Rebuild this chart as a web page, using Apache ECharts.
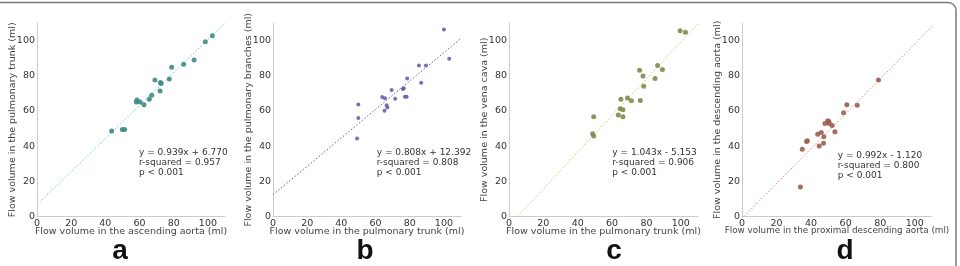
<!DOCTYPE html>
<html><head><meta charset="utf-8">
<script src="https://cdn.jsdelivr.net/npm/echarts@6/dist/echarts.min.js"></script>
<style>html,body{margin:0;padding:0;background:#fff}#c{width:960px;height:266px}</style>
</head><body><div id="c"></div>
<script>
// ---------- data ----------
const axisMin = 0;
const axisMax = 110;
const tickStep = 20;
const panelLetters = ['a', 'b', 'c', 'd'];
const xNames = [
  'Flow volume in the ascending aorta (ml)',
  'Flow volume in the pulmonary trunk (ml)',
  'Flow volume in the pulmonary trunk (ml)',
  'Flow volume in the proximal descending aorta (ml)'
];
const yNames = [
  'Flow volume in the pulmonary trunk (ml)',
  'Flow volume in the pulmonary branches (ml)',
  'Flow volume in the vena cava (ml)',
  'Flow volume in the descending aorta (ml)'
];
const slopes = [0.939, 0.808, 1.043, 0.992];
const intercepts = [6.770, 12.392, -5.153, -1.120];
const rSquared = ['0.957', '0.808', '0.906', '0.800'];
const pTexts = ['p < 0.001', 'p < 0.001', 'p < 0.001', 'p < 0.001'];

const pointsA = [[43.7,48.6],[49.9,49.5],[51.3,49.5],[58.1,65.1],[58.5,66.2],[60.3,65.1],[62.6,63.5],[65.7,66.6],[67.1,68.9],[69.0,77.6],[72.0,71.3],[72.2,76.2],[72.6,75.6],[77.4,78.1],[78.8,84.8],[85.8,86.5],[91.9,88.9],[98.5,99.3],[102.6,102.7]];
const pointsB = [[49.2,44.4],[49.9,56.0],[49.9,63.7],[63.9,67.9],[65.2,60.1],[65.5,67.2],[66.5,63.2],[66.9,62.0],[69.4,71.9],[71.5,66.9],[76.0,72.5],[76.5,72.9],[77.2,68.1],[78.2,68.1],[78.5,78.5],[85.4,85.9],[86.7,76.0],[89.5,85.9],[100.0,106.3],[103.1,89.7]];
const pointsC = [[48.7,47.0],[49.3,45.7],[49.3,56.7],[63.6,57.7],[64.7,61.3],[65.1,66.6],[66.3,60.7],[66.3,56.7],[69.0,67.3],[71.2,65.8],[76.0,83.2],[76.4,66.0],[78.0,79.8],[78.4,74.0],[85.0,78.5],[86.5,85.9],[89.3,83.6],[99.6,105.6],[102.7,104.8]];
const pointsD = [[33.8,16.8],[34.9,38.2],[37.4,42.6],[37.8,43.1],[43.8,46.7],[44.7,40.1],[45.9,47.8],[47.2,41.6],[47.4,45.3],[48.0,52.9],[49.7,54.4],[50.5,52.9],[50.3,54.0],[52.2,51.8],[53.8,48.2],[58.8,59.0],[60.7,63.5],[66.7,63.2],[79.0,77.6]];
const allPoints = [pointsA, pointsB, pointsC, pointsD];

// ---------- styles / layout ----------
const pointColors = ['#3f8a84', '#6464ac', '#7d8b4c', '#9a5f4e'];
const lineColors = ['#62cbc3', '#5c5ca6', '#bccf6a', '#ee8677'];
const pointSizes = [5, 4, 5, 5];
const gridLefts = [37, 273, 509, 742];
const gridWidths = [188, 188, 189, 190];
const annLeft = [139, 376.7, 612.3, 837.7];
const annTop = [147.5, 147.5, 147.5, 151];
const letterX = [120, 365, 614, 845];
const xNameSize = [9.5, 9.5, 9.5, 8.8];
const FONT = 'DejaVu Sans';

function fitLine(m, b) {
  const x0 = Math.max(axisMin, (axisMin - b) / m);
  const x1 = Math.min(axisMax, (axisMax - b) / m);
  return [[x0, m * x0 + b], [x1, m * x1 + b]];
}
function eqText(m, b) {
  return 'y = ' + m.toFixed(3) + 'x ' + (b < 0 ? '- ' : '+ ') + Math.abs(b).toFixed(3);
}

const grids = [], xAxes = [], yAxes = [], series = [], graphics = [];
const axisCommon = {
  min: axisMin, max: axisMax, interval: tickStep,
  axisLine: { show: true, lineStyle: { color: '#cccccc', width: 1 } },
  axisTick: { show: false },
  splitLine: { show: false },
  nameLocation: 'middle',
  nameMoveOverlap: false,
  nameTextStyle: { fontFamily: FONT, fontSize: 9.5, color: '#444' }
};
for (let i = 0; i < 4; i++) {
  grids.push({ left: gridLefts[i], top: 23, width: gridWidths[i], height: 193.5 });
  xAxes.push(Object.assign({}, axisCommon, {
    type: 'value', gridIndex: i, name: xNames[i], nameGap: 10,
    nameTextStyle: { fontFamily: FONT, fontSize: xNameSize[i], color: '#444' },
    axisLabel: { showMaxLabel: false, margin: 2, fontFamily: FONT, fontSize: 9.5, color: '#333',
      formatter: v => (v > 100 ? '' : String(v)) }
  }));
  yAxes.push(Object.assign({}, axisCommon, {
    type: 'value', gridIndex: i, name: yNames[i], nameGap: 19,
    axisLabel: { showMaxLabel: false, margin: 2, fontFamily: FONT, fontSize: 9.5, color: '#333',
      formatter: v => (v > 100 ? '' : String(v)) }
  }));
  series.push({
    type: 'line', xAxisIndex: i, yAxisIndex: i, data: fitLine(slopes[i], intercepts[i]),
    showSymbol: false, symbol: 'none', silent: true, z: 1,
    lineStyle: { color: lineColors[i], width: 1, type: [1.5, 2] }
  });
  series.push({
    type: 'scatter', xAxisIndex: i, yAxisIndex: i, data: allPoints[i],
    symbolSize: pointSizes[i], z: 2,
    itemStyle: { color: pointColors[i], opacity: 0.9 }
  });
  graphics.push({
    type: 'text', left: annLeft[i], top: annTop[i],
    style: {
      text: eqText(slopes[i], intercepts[i]) + '\nr-squared = ' + rSquared[i] + '\n' + pTexts[i],
      font: '9px "DejaVu Sans"', lineHeight: 10, fill: '#333'
    }
  });
  graphics.push({
    type: 'text', x: letterX[i], y: 251.5,
    style: { text: panelLetters[i], font: 'bold 28px "Liberation Sans", Arial', fill: '#111',
      align: 'center', verticalAlign: 'middle' }
  });
}
graphics.push({
  type: 'rect', shape: { x: -20, y: 2.5, width: 976, height: 300, r: 8 },
  style: { fill: 'none', stroke: '#7a7a7a', lineWidth: 1.5 }, silent: true
});

const chart = echarts.init(document.getElementById('c'), null, { renderer: 'canvas' });
chart.setOption({
  animation: false,
  backgroundColor: '#ffffff',
  grid: grids, xAxis: xAxes, yAxis: yAxes, series: series, graphic: graphics
});
</script></body></html>
